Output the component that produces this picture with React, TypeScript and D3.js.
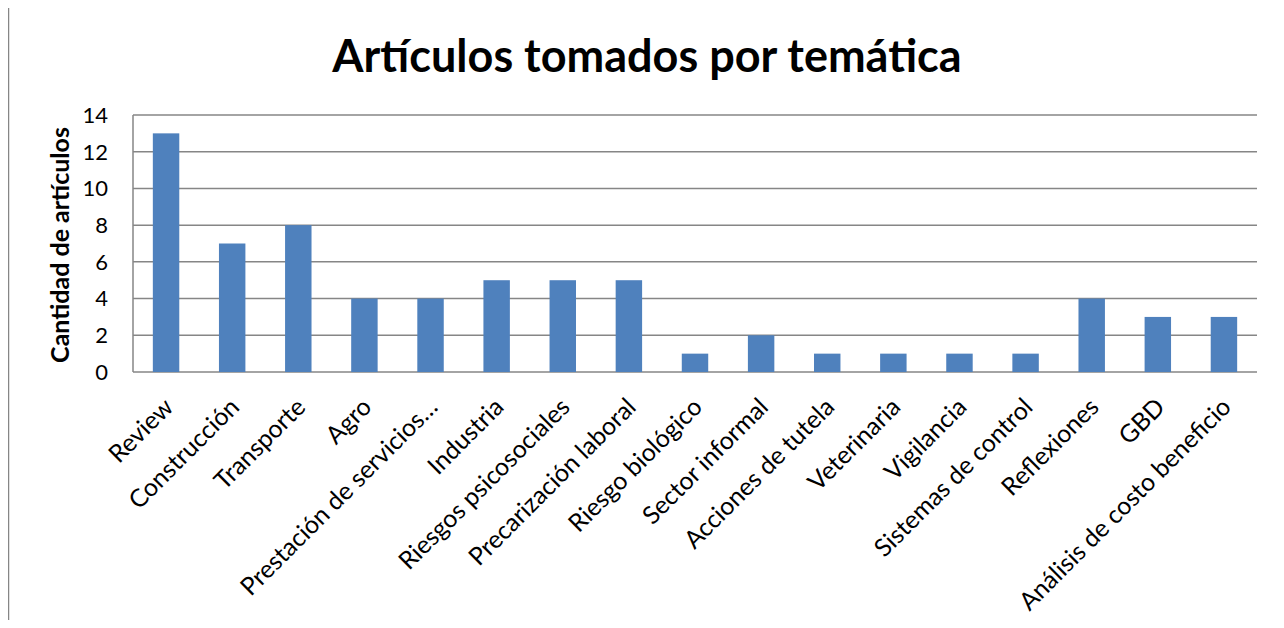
import { useRef, useEffect } from 'react'
import * as d3 from 'd3'

const CATEGORIES = [
  'Review',
  'Construcción',
  'Transporte',
  'Agro',
  'Prestación de servicios…',
  'Industria',
  'Riesgos psicosociales',
  'Precarización laboral',
  'Riesgo biológico',
  'Sector informal',
  'Acciones de tutela',
  'Veterinaria',
  'Vigilancia',
  'Sistemas de control',
  'Reflexiones',
  'GBD',
  'Análisis de costo beneficio',
]

const COUNTS = [13, 7, 8, 4, 4, 5, 5, 5, 1, 2, 1, 1, 1, 1, 4, 3, 3]

const Y_TICKS = [0, 2, 4, 6, 8, 10, 12, 14]

const FONT = 'Lato, "Open Sans", sans-serif'

export default function App() {
  const svgRef = useRef<SVGSVGElement>(null)

  useEffect(() => {
    if (!svgRef.current) return
    const svg = d3.select(svgRef.current)
    svg.selectAll('*').remove()

    const W = 1284
    const H = 628
    const plot = { left: 133, right: 1257, top: 115, bottom: 372 }

    svg.attr('width', W).attr('height', H)

    // chart frame
    svg.append('rect')
      .attr('x', 8.5).attr('y', 4.5)
      .attr('width', W + 20).attr('height', H + 20)
      .attr('fill', '#fff').attr('stroke', '#868686').attr('stroke-width', 1.5)

    const x = d3.scaleBand<string>()
      .domain(CATEGORIES)
      .range([plot.left, plot.right])
      .paddingInner(0.6)
      .paddingOuter(0.3)

    const y = d3.scaleLinear().domain([0, 14]).range([plot.bottom, plot.top])

    // gridlines
    svg.append('g')
      .selectAll('line')
      .data(Y_TICKS)
      .join('line')
      .attr('x1', plot.left).attr('x2', plot.right)
      .attr('y1', (d) => y(d)).attr('y2', (d) => y(d))
      .attr('stroke', '#868686').attr('stroke-width', 1.5)

    // y axis line
    svg.append('line')
      .attr('x1', plot.left).attr('x2', plot.left)
      .attr('y1', plot.top).attr('y2', plot.bottom)
      .attr('stroke', '#868686').attr('stroke-width', 1.5)

    // bars
    svg.append('g')
      .selectAll('rect')
      .data(COUNTS)
      .join('rect')
      .attr('x', (_, i) => x(CATEGORIES[i])!)
      .attr('y', (d) => y(d))
      .attr('width', x.bandwidth())
      .attr('height', (d) => y(0) - y(d))
      .attr('fill', '#4F81BD')

    // y tick labels
    svg.append('g')
      .selectAll('text')
      .data(Y_TICKS)
      .join('text')
      .attr('x', 108)
      .attr('y', (d) => y(d))
      .attr('dy', '0.36em')
      .attr('text-anchor', 'end')
      .attr('font-family', FONT)
      .attr('font-size', 22)
      .attr('fill', '#000')
      .text((d) => d)

    // x labels
    svg.append('g')
      .selectAll('text')
      .data(CATEGORIES)
      .join('text')
      .attr('transform', (d) => `translate(${x(d)! + x.bandwidth() / 2 - 4},${plot.bottom + 24}) rotate(-45)`)
      .attr('dy', '0.72em')
      .attr('text-anchor', 'end')
      .attr('font-family', FONT)
      .attr('font-size', 24.8)
      .attr('fill', '#000')
      .text((d) => d)

    // y axis title
    svg.append('text')
      .attr('transform', `translate(69,245) rotate(-90)`)
      .attr('text-anchor', 'middle')
      .attr('font-family', FONT)
      .attr('font-weight', 700)
      .attr('font-size', 25)
      .text('Cantidad de artículos')

    // title
    svg.append('text')
      .attr('x', 647)
      .attr('y', 72)
      .attr('text-anchor', 'middle')
      .attr('font-family', FONT)
      .attr('font-weight', 700)
      .attr('font-size', 45)
      .text('Artículos tomados por temática')
  }, [])

  return (
    <div style={{ margin: -8 }}>
      <svg ref={svgRef} style={{ display: 'block' }} />
    </div>
  )
}
